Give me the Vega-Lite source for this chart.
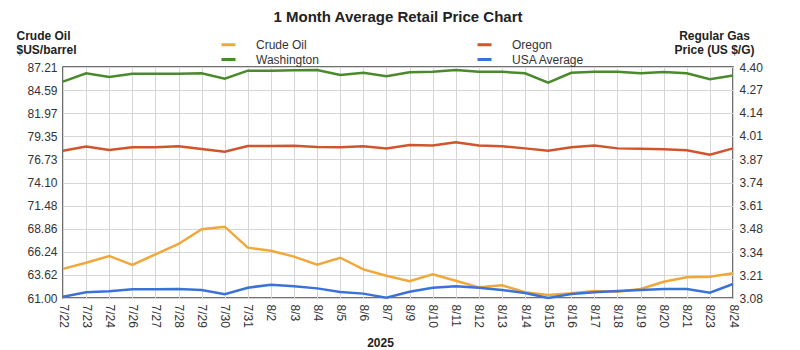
{
  "$schema": "https://vega.github.io/schema/vega-lite/v6.json",
  "width": 670,
  "height": 231,
  "autosize": {"type": "none"},
  "padding": {"left": 63, "top": 67, "right": 67, "bottom": 52},
  "background": "white",
  "config": {
    "font": "Liberation Sans",
    "view": {"stroke": "#404040", "strokeWidth": 1.5},
    "axis": {
      "labelFontSize": 12,
      "labelColor": "#333333",
      "domain": false,
      "ticks": false,
      "gridColor": "#d6d6d6",
      "gridWidth": 1,
      "titleFontSize": 12,
      "titleFontWeight": "bold",
      "titleColor": "#222222"
    }
  },
  "title": {
    "text": "1 Month Average Retail Price Chart",
    "fontSize": 15,
    "fontWeight": "bold",
    "color": "#222222",
    "anchor": "middle",
    "offset": 4
  },
  "data": {
    "values": [
      {"d": "7/22", "Crude Oil": 64.3, "Oregon": 3.922, "Washington": 4.316, "USA Average": 3.087},
      {"d": "7/23", "Crude Oil": 65.0, "Oregon": 3.945, "Washington": 4.364, "USA Average": 3.113},
      {"d": "7/24", "Crude Oil": 65.77, "Oregon": 3.926, "Washington": 4.343, "USA Average": 3.118},
      {"d": "7/26", "Crude Oil": 64.75, "Oregon": 3.941, "Washington": 4.362, "USA Average": 3.130},
      {"d": "7/27", "Crude Oil": 65.96, "Oregon": 3.941, "Washington": 4.362, "USA Average": 3.130},
      {"d": "7/28", "Crude Oil": 67.13, "Oregon": 3.947, "Washington": 4.362, "USA Average": 3.131},
      {"d": "7/29", "Crude Oil": 68.80, "Oregon": 3.931, "Washington": 4.364, "USA Average": 3.126},
      {"d": "7/30", "Crude Oil": 69.09, "Oregon": 3.916, "Washington": 4.333, "USA Average": 3.101},
      {"d": "7/31", "Crude Oil": 66.71, "Oregon": 3.949, "Washington": 4.379, "USA Average": 3.139},
      {"d": "8/2", "Crude Oil": 66.37, "Oregon": 3.949, "Washington": 4.379, "USA Average": 3.156},
      {"d": "8/3", "Crude Oil": 65.69, "Oregon": 3.950, "Washington": 4.381, "USA Average": 3.147},
      {"d": "8/4", "Crude Oil": 64.78, "Oregon": 3.943, "Washington": 4.383, "USA Average": 3.135},
      {"d": "8/5", "Crude Oil": 65.57, "Oregon": 3.941, "Washington": 4.354, "USA Average": 3.114},
      {"d": "8/6", "Crude Oil": 64.25, "Oregon": 3.947, "Washington": 4.367, "USA Average": 3.105},
      {"d": "8/7", "Crude Oil": 63.53, "Oregon": 3.935, "Washington": 4.347, "USA Average": 3.081},
      {"d": "8/9", "Crude Oil": 62.91, "Oregon": 3.954, "Washington": 4.370, "USA Average": 3.116},
      {"d": "8/10", "Crude Oil": 63.69, "Oregon": 3.952, "Washington": 4.373, "USA Average": 3.139},
      {"d": "8/11", "Crude Oil": 62.96, "Oregon": 3.970, "Washington": 4.383, "USA Average": 3.147},
      {"d": "8/12", "Crude Oil": 62.21, "Oregon": 3.952, "Washington": 4.373, "USA Average": 3.139},
      {"d": "8/13", "Crude Oil": 62.44, "Oregon": 3.947, "Washington": 4.373, "USA Average": 3.126},
      {"d": "8/14", "Crude Oil": 61.65, "Oregon": 3.935, "Washington": 4.364, "USA Average": 3.109},
      {"d": "8/15", "Crude Oil": 61.34, "Oregon": 3.922, "Washington": 4.310, "USA Average": 3.080},
      {"d": "8/16", "Crude Oil": 61.53, "Oregon": 3.941, "Washington": 4.367, "USA Average": 3.103},
      {"d": "8/17", "Crude Oil": 61.79, "Oregon": 3.952, "Washington": 4.373, "USA Average": 3.113},
      {"d": "8/18", "Crude Oil": 61.72, "Oregon": 3.935, "Washington": 4.373, "USA Average": 3.120},
      {"d": "8/19", "Crude Oil": 62.02, "Oregon": 3.933, "Washington": 4.364, "USA Average": 3.126},
      {"d": "8/20", "Crude Oil": 62.85, "Oregon": 3.930, "Washington": 4.371, "USA Average": 3.131},
      {"d": "8/21", "Crude Oil": 63.35, "Oregon": 3.924, "Washington": 4.364, "USA Average": 3.131},
      {"d": "8/23", "Crude Oil": 63.42, "Oregon": 3.899, "Washington": 4.330, "USA Average": 3.110},
      {"d": "8/24", "Crude Oil": 63.80, "Oregon": 3.935, "Washington": 4.352, "USA Average": 3.160}
    ]
  },
  "transform": [
    {"fold": ["Crude Oil", "Oregon", "Washington", "USA Average"], "as": ["series", "value"]}
  ],
  "encoding": {
    "x": {
      "field": "d",
      "type": "ordinal",
      "sort": null,
      "scale": {"type": "point", "padding": 0},
      "axis": {
        "title": "2025",
        "labelAngle": 90,
        "labelPadding": 6,
        "grid": true,
        "titleX": 317,
        "titleY": 44,
        "titleBaseline": "middle"
      }
    },
    "color": {
      "field": "series",
      "type": "nominal",
      "scale": {
        "domain": ["Crude Oil", "Oregon", "Washington", "USA Average"],
        "range": ["#F0A83A", "#D1552C", "#4A8A2C", "#3B72D9"]
      },
      "legend": {
        "orient": "none",
        "legendX": 157,
        "legendY": -31,
        "columns": 2,
        "direction": "horizontal",
        "columnPadding": 152,
        "rowPadding": 0,
        "title": null,
        "symbolType": "stroke",
        "symbolStrokeWidth": 3,
        "symbolSize": 196,
        "labelFontSize": 12,
        "labelColor": "#333333",
        "labelOffset": 19
      }
    }
  },
  "layer": [
    {
      "transform": [{"filter": "datum.series === 'Crude Oil'"}],
      "mark": {"type": "line", "strokeWidth": 2.5},
      "encoding": {
        "y": {
          "field": "value",
          "type": "quantitative",
          "scale": {"domain": [61, 87.21], "nice": false, "zero": false},
          "axis": {
            "orient": "left",
            "values": [61, 63.62, 66.24, 68.86, 71.48, 74.10, 76.73, 79.35, 81.97, 84.59, 87.21],
            "format": ".2f",
            "labelPadding": 6,
            "grid": true,
            "title": ["Crude Oil", "$US/barrel"],
            "titleAngle": 0,
            "titleAlign": "left",
            "titleBaseline": "top",
            "titleX": -47,
            "titleY": -37,
            "titleLineHeight": 14
          }
        }
      }
    },
    {
      "transform": [{"filter": "datum.series !== 'Crude Oil'"}],
      "mark": {"type": "line", "strokeWidth": 2.5},
      "encoding": {
        "y": {
          "field": "value",
          "type": "quantitative",
          "scale": {"domain": [3.08, 4.40], "nice": false, "zero": false},
          "axis": {
            "orient": "right",
            "values": [3.08, 3.21, 3.34, 3.48, 3.61, 3.74, 3.87, 4.01, 4.14, 4.27, 4.40],
            "format": ".2f",
            "labelPadding": 6,
            "grid": false,
            "title": ["Regular Gas", "Price (US $/G)"],
            "titleAngle": 0,
            "titleAlign": "center",
            "titleBaseline": "top",
            "titleX": -19,
            "titleY": -37,
            "titleLineHeight": 14
          }
        }
      }
    }
  ],
  "resolve": {"scale": {"y": "independent"}}
}
